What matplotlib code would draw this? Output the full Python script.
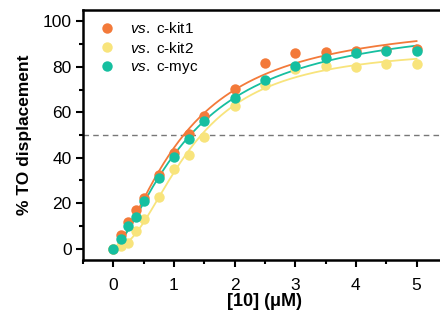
import numpy as np
import matplotlib
matplotlib.use("Agg")
import matplotlib.pyplot as plt
from matplotlib.ticker import MultipleLocator

plt.rcParams['font.family'] = ['Liberation Sans', 'DejaVu Sans']
plt.rcParams['mathtext.fontset'] = 'custom'
plt.rcParams['mathtext.rm'] = 'Liberation Sans'
plt.rcParams['mathtext.it'] = 'Liberation Sans:italic'

# Concentration of compound 10 (uM)
conc = [0, 0.125, 0.25, 0.375, 0.5, 0.75, 1.0, 1.25, 1.5, 2.0, 2.5, 3.0, 3.5, 4.0, 4.5, 5.0]

# % TO displacement for each G-quadruplex
ckit1 = [0, 6.0, 11.7, 17.0, 22.5, 32.4, 41.9, 50.3, 58.2, 70.3, 81.7, 86.1, 86.4, 87.1, 87.4, 87.8]
ckit2 = [0, 1.2, 2.5, 7.9, 13.0, 22.6, 34.9, 41.1, 49.3, 62.7, 72.2, 79.1, 80.2, 79.8, 81.3, 81.3]
cmyc = [0, 4.4, 10.0, 13.9, 20.9, 31.2, 40.4, 48.2, 56.1, 66.4, 74.0, 80.2, 83.9, 86.1, 86.8, 87.1]

labels = [r'$\mathit{vs.}$ c-kit1', r'$\mathit{vs.}$ c-kit2', r'$\mathit{vs.}$ c-myc']
colors = ['#F37A3A', '#F8E47C', '#16BFA0']


def hill_fit(x, y):
    """Least-squares Hill fit y = B x^n / (K^n + x^n) by grid search."""
    x = np.asarray(x, float)
    y = np.asarray(y, float)
    ns = np.linspace(0.8, 3.0, 111)[:, None, None]
    ks = np.linspace(0.3, 4.0, 371)[None, :, None]
    f = x ** ns / (ks ** ns + x ** ns)
    B = (f * y).sum(-1) / (f * f).sum(-1)
    sse = ((B[..., None] * f - y) ** 2).sum(-1)
    i, j = np.unravel_index(np.argmin(sse), sse.shape)
    return B[i, j], ks[0, j, 0], ns[i, 0, 0]


fig = plt.figure(figsize=(4.4, 3.2), dpi=100)
ax = fig.add_axes([0.1886, 0.1875, 0.827, 0.78125])

xs = np.linspace(0, 5, 300)
for y, c, lab in zip([ckit1, ckit2, cmyc], colors, labels):
    B, K, n = hill_fit(conc, y)
    ax.plot(xs, B * xs ** n / (K ** n + xs ** n), color=c, lw=1.3, zorder=2)
for y, c, lab in zip([ckit1, ckit2, cmyc], colors, labels):
    ax.plot(conc, y, 'o', color=c, ms=7.5, mec='none', label=lab, zorder=3)

ax.axhline(50, color='#777777', lw=1.0, ls=(0, (4, 3)), zorder=1)

ax.set_xlim(-0.5, 5.5)
ax.set_ylim(-5, 105)
ax.xaxis.set_major_locator(MultipleLocator(1))
ax.xaxis.set_minor_locator(MultipleLocator(0.5))
ax.yaxis.set_major_locator(MultipleLocator(20))
ax.yaxis.set_minor_locator(MultipleLocator(10))
ax.tick_params(which='major', direction='out', length=5, width=1.5, labelsize=12.5)
ax.tick_params(axis='x', which='major', pad=8)
ax.tick_params(axis='y', which='major', pad=3)
ax.tick_params(which='minor', direction='out', length=3, width=1.5)
for s in ax.spines.values():
    s.set_linewidth(1.8)

ax.set_xlabel('[10] (\u03bcM)', fontsize=13, fontweight='bold', labelpad=0)
ax.set_ylabel('% TO displacement', fontsize=12.5, fontweight='bold', labelpad=8)

ax.legend(loc='upper left', frameon=False, fontsize=11, handletextpad=0.9,
          borderaxespad=0.0, labelspacing=0.3, handlelength=1.2,
          bbox_to_anchor=(0.024, 0.98))

fig.savefig('out.png', dpi=100)
